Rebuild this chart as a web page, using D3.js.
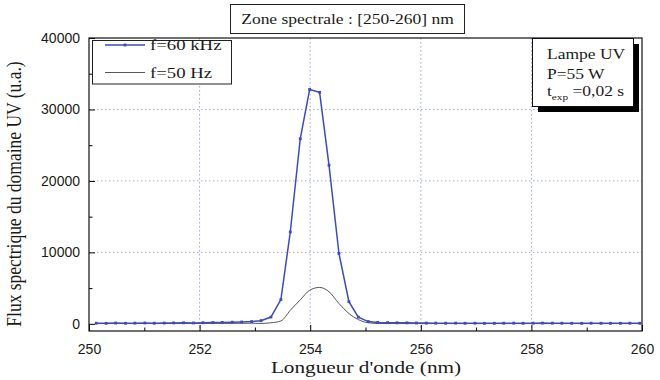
<!DOCTYPE html>
<html><head><meta charset="utf-8">
<script src="https://cdn.jsdelivr.net/npm/d3@7"></script>
<style>body{margin:0;background:#fff}svg{display:block}</style>
</head><body>
<svg id="c" width="660" height="380"></svg>
<script>
const wavelengths = [250.13,250.31,250.48,250.66,250.83,251.01,251.18,251.36,251.53,251.71,251.89,252.06,252.24,252.41,252.59,252.76,252.94,253.11,253.29,253.47,253.64,253.82,253.99,254.17,254.34,254.52,254.70,254.87,255.05,255.22,255.40,255.57,255.75,255.92,256.10,256.27,256.45,256.63,256.80,256.98,257.15,257.33,257.50,257.68,257.85,258.03,258.20,258.38,258.55,258.73,258.91,259.08,259.26,259.43,259.61,259.78,259.96];
const flux60kHz = [90,70,110,80,100,120,90,110,130,150,120,160,180,200,230,260,320,450,950,3400,12850,25900,32800,32400,22200,9850,3100,950,320,200,170,150,140,120,110,100,90,100,80,90,70,80,90,100,80,90,110,100,90,80,70,90,80,70,80,90,80];
const flux50Hz = [40,30,50,40,40,50,40,50,50,60,50,60,60,70,70,80,90,60,150,400,1900,3350,4700,5100,4500,2850,1450,600,150,60,50,40,40,40,30,40,30,40,30,40,30,40,30,40,30,40,30,40,30,40,30,40,30,40,30,40,30];
const xTicks = [250,252,254,256,258,260];
const xMinor = [251,253,255,257,259];
const yTicks = [0,10000,20000,30000,40000];
const yMinor = [5000,15000,25000,35000];
const seriesNames = ["f=60 kHz","f=50 Hz"];
const titleText = "Zone spectrale : [250-260] nm";
const xLabel = "Longueur d'onde (nm)";
const yLabel = "Flux spectrique du domaine UV (u.a.)";
const infoLines = ["Lampe UV","P=55 W"];

const svg = d3.select("#c");
const L=89, R=642, T=38, B=331;
const x = d3.scaleLinear().domain([250,260]).range([L,R]);
const y = d3.scaleLinear().domain([-1000,40000]).range([B,T]);
const blue = "#3b4bbf";
const ink = "#1a1a1a";
const serif = "'Liberation Serif','Times New Roman',serif";
const sans = "'Liberation Sans',Arial,sans-serif";
const SX = 1.25;

// grid
const grid = svg.append("g").attr("stroke","#a3a8d8").attr("stroke-width",1).attr("stroke-dasharray","1.5,2.5");
xTicks.filter(t=>t>250&&t<260).forEach(t=>grid.append("line").attr("x1",x(t)).attr("x2",x(t)).attr("y1",T).attr("y2",B));
yTicks.filter(t=>t>0&&t<40000).forEach(t=>grid.append("line").attr("x1",L).attr("x2",R).attr("y1",y(t)).attr("y2",y(t)));

// axes
const xAxis = d3.axisBottom(x).tickValues(xTicks).tickSize(-6).tickPadding(13).tickFormat(d3.format("d"));
const gx = svg.append("g").attr("transform",`translate(0,${B})`).call(xAxis);
gx.select(".domain").remove();
gx.selectAll("text").attr("font-family",sans).attr("font-size",14).attr("fill",ink);
const gxm = svg.append("g").attr("transform",`translate(0,${B})`).call(d3.axisBottom(x).tickValues(xMinor).tickSize(-3.5).tickFormat(""));
gxm.select(".domain").remove();

const yAxis = d3.axisLeft(y).tickValues(yTicks).tickSize(-6).tickPadding(9).tickFormat(d3.format("d"));
const gy = svg.append("g").attr("transform",`translate(${L},0)`).call(yAxis);
gy.select(".domain").remove();
gy.selectAll("text").attr("font-family",sans).attr("font-size",14).attr("fill",ink);
const gym = svg.append("g").attr("transform",`translate(${L},0)`).call(d3.axisLeft(y).tickValues(yMinor).tickSize(-3.5).tickFormat(""));
gym.select(".domain").remove();

// data
const pts60 = wavelengths.map((w,i)=>[w,flux60kHz[i]]);
const pts50 = wavelengths.map((w,i)=>[w,flux50Hz[i]]);
svg.append("path").datum(pts50).attr("fill","none").attr("stroke","#444").attr("stroke-width",0.9)
  .attr("d",d3.line().x(d=>x(d[0])).y(d=>y(d[1])).curve(d3.curveMonotoneX));
svg.append("path").datum(pts60).attr("fill","none").attr("stroke",blue).attr("stroke-width",1.5)
  .attr("d",d3.line().x(d=>x(d[0])).y(d=>y(d[1])));
svg.append("g").selectAll("rect").data(pts60).join("rect")
  .attr("x",d=>x(d[0])-1.4).attr("y",d=>y(d[1])-1.4).attr("width",2.8).attr("height",2.8).attr("fill",blue);

// frame
svg.append("rect").attr("x",L).attr("y",T).attr("width",R-L).attr("height",B-T).attr("fill","none").attr("stroke","#111").attr("stroke-width",1.2);

// legend
svg.append("rect").attr("x",92.5).attr("y",40.5).attr("width",139).attr("height",43.5).attr("fill","#fff").attr("stroke","#222").attr("stroke-width",1);
const leg = [{y:45,c:blue,w:1.5,m:true},{y:72.5,c:"#444",w:0.9,m:false}];
leg.forEach((d,i)=>{
  svg.append("line").attr("x1",105).attr("x2",145).attr("y1",d.y).attr("y2",d.y).attr("stroke",d.c).attr("stroke-width",d.w);
  if(d.m) svg.append("rect").attr("x",123.6).attr("y",d.y-1.4).attr("width",2.8).attr("height",2.8).attr("fill",d.c);
  svg.append("text").attr("transform",`translate(150,${d.y+5}) scale(${SX},1)`).attr("font-family",serif).attr("font-size",15).attr("fill",ink).text(seriesNames[i]);
});

// info box with shadow
svg.append("rect").attr("x",538).attr("y",44).attr("width",101).attr("height",68).attr("fill","#000");
svg.append("rect").attr("x",532.5).attr("y",38.5).attr("width",101).attr("height",68).attr("fill","#fff").attr("stroke","#111").attr("stroke-width",1);
infoLines.forEach((t,i)=>{
  svg.append("text").attr("transform",`translate(547,${59+i*19.5}) scale(${SX},1)`).attr("font-family",serif).attr("font-size",14).attr("fill",ink).text(t);
});
const tx = svg.append("text").attr("transform",`translate(547,96) scale(${SX},1)`).attr("font-family",serif).attr("font-size",14).attr("fill",ink);
tx.append("tspan").text("t");
tx.append("tspan").attr("font-size",9).attr("dy",4).text("exp");
tx.append("tspan").attr("dy",-4).text(" =0,02 s");

// title box
svg.append("rect").attr("x",230.5).attr("y",4.5).attr("width",234).attr("height",29).attr("fill","#fff").attr("stroke","#222").attr("stroke-width",1);
svg.append("text").attr("transform",`translate(347.5,24) scale(${SX},1)`).attr("text-anchor","middle").attr("font-family",serif).attr("font-size",14).attr("fill",ink).text(titleText);

// axis labels
svg.append("text").attr("transform",`translate(366,373) scale(${SX},1)`).attr("text-anchor","middle").attr("font-family",serif).attr("font-size",17).attr("fill",ink).text(xLabel);
svg.append("text").attr("transform",`translate(21,194) rotate(-90) scale(1,${SX})`).attr("text-anchor","middle").attr("font-family",serif).attr("font-size",17.5).attr("fill",ink).text(yLabel);
</script>
</body></html>
